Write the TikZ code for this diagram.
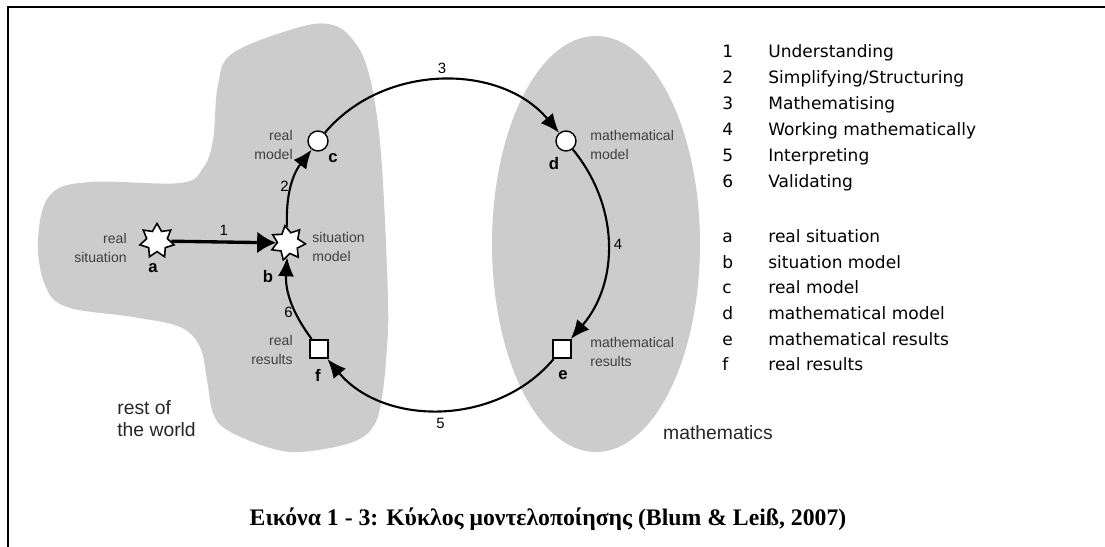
\documentclass[tikz,border=0pt]{standalone}
\usepackage{fontspec}
\setmainfont{Liberation Serif}
\setsansfont{Liberation Sans}
\newfontfamily\legendfont{DejaVu Sans}
\usetikzlibrary{shapes.geometric, arrows.meta}

\begin{document}
\begin{tikzpicture}[x=0.02cm, y=-0.02cm,
    blob/.style={fill=black!20, draw=none},
    realpt/.style={draw, star, star points=7, star point ratio=1.65, minimum size=0.7cm, inner sep=0pt, fill=white, line width=0.9pt},
    modelpt/.style={draw, circle, minimum size=0.4cm, inner sep=0pt, fill=white, line width=0.8pt},
    respt/.style={draw, rectangle, minimum size=0.37cm, inner sep=0pt, fill=white, line width=0.9pt},
    desc/.style={font=\sffamily\fontsize{8}{11.3}\selectfont, text=black!75, inner sep=0pt},
    letter/.style={font=\sffamily\bfseries\fontsize{9.5}{11}\selectfont, inner sep=0pt},
    num/.style={font=\sffamily\fontsize{8.5}{10}\selectfont, inner sep=1pt},
    region/.style={font=\sffamily\fontsize{11}{12.5}\selectfont, text=black!85, inner sep=0pt, align=left},
    leg/.style={font=\legendfont\fontsize{9.7}{12}\selectfont, anchor=base west, inner sep=0pt},
    cyc/.style={-{Latex[length=0.38cm, width=0.32cm]}, line width=1.2pt}
]
    \useasboundingbox (0,0) rectangle (1105,547);

    % frame
    \draw[line width=1.4pt] (1105,7) -- (8,7) -- (8,547);

    % rest of the world / mathematics
    \path[blob] plot[smooth cycle, tension=0.6] coordinates {
        (50,195) (90,182) (180,183) (203,168) (213,140) (218,85) (233,53)
        (300,27) (333,25) (353,40) (367,67) (377,117) (383,183) (388,300)
        (387,347) (382,397) (373,427) (350,443) (300,452) (267,447)
        (227,430) (213,413) (207,380) (200,347) (180,327) (133,317)
        (67,307) (45,285) (38,240)};
    \path[blob] (596,244) ellipse (104 and 208);

    % points of the cycle
    \node[realpt] (sa) at (157,241) {};
    \node[realpt, rotate=10] (sb) at (288,243) {};
    \node[modelpt] (mc) at (318,141) {};
    \node[modelpt] (md) at (566,141) {};
    \node[respt] (re) at (562,349) {};
    \node[respt] (rf) at (319,349) {};

    \node[letter] (la) at (153,268) {a};
    \node[letter] (lb) at (268,277) {b};
    \node[letter] (lc) at (333,158) {c};
    \node[letter] (ld) at (554,164) {d};
    \node[letter] (le) at (563,375) {e};
    \node[letter] (lf) at (318,375) {f};

    \node[desc, anchor=east, align=right] (da) at (127,248) {real\\situation};
    \node[desc, anchor=west, align=left] (db) at (312,247) {situation\\model};
    \node[desc, anchor=east, align=right] (dc) at (293,145) {real\\model};
    \node[desc, anchor=west, align=left] (dd) at (590,145) {mathematical\\model};
    \node[desc, anchor=west, align=left] (de) at (590,352) {mathematical\\results};
    \node[desc, anchor=east, align=right] (df) at (293,350) {real\\results};

    \node[region, anchor=west] (world) at (117,419) {rest of\\the world};
    \node[region] (maths) at (718,433) {mathematics};

    % cycle
    \draw[cyc, line width=1.9pt, -{Latex[length=0.38cm, width=0.44cm]}] (sa) -- node[num, above=2pt] {1} (sb);
    \draw[cyc] (sb) to[bend left=20] node[num, left] {2} (mc);
    \draw[cyc] (mc) to[bend left=50] node[num, above=2pt] {3} (md);
    \draw[cyc] (md) to[bend left=40] node[num, right=2pt] {4} (re);
    \draw[cyc] (re) to[bend left=50] node[num, below=3pt] {5} (rf);
    \draw[cyc] (rf) to[bend left=20] node[num, left, pos=0.35] {6} (sb);

    % legend
    \node[leg] (n1) at (722,58) {1};  \node[leg] (t1) at (768,58) {Understanding};
    \node[leg] (n2) at (722,84) {2};  \node[leg] (t2) at (768,84) {Simplifying/Structuring};
    \node[leg] (n3) at (722,110) {3}; \node[leg] (t3) at (768,110) {Mathematising};
    \node[leg] (n4) at (722,136) {4}; \node[leg] (t4) at (768,136) {Working mathematically};
    \node[leg] (n5) at (722,162) {5}; \node[leg] (t5) at (768,162) {Interpreting};
    \node[leg] (n6) at (722,188) {6}; \node[leg] (t6) at (768,188) {Validating};

    \node[leg] (ka) at (722,242) {a}; \node[leg] (ma) at (768,242) {real situation};
    \node[leg] (kb) at (722,268) {b}; \node[leg] (mb) at (768,268) {situation model};
    \node[leg] (kc) at (722,293) {c}; \node[leg] (mcl) at (768,293) {real model};
    \node[leg] (kd) at (722,319) {d}; \node[leg] (mdl) at (768,319) {mathematical model};
    \node[leg] (ke) at (722,345) {e}; \node[leg] (me) at (768,345) {mathematical results};
    \node[leg] (kf) at (722,370) {f}; \node[leg] (mf) at (768,370) {real results};

    % caption
    \node[font=\bfseries\fontsize{13.5}{15}\selectfont, anchor=base, inner sep=0pt] (cap) at (548,525)
        {Εικόνα 1 - 3: Κύκλος μοντελοποίησης (Blum \& Leiß, 2007)};
\end{tikzpicture}
\end{document}
